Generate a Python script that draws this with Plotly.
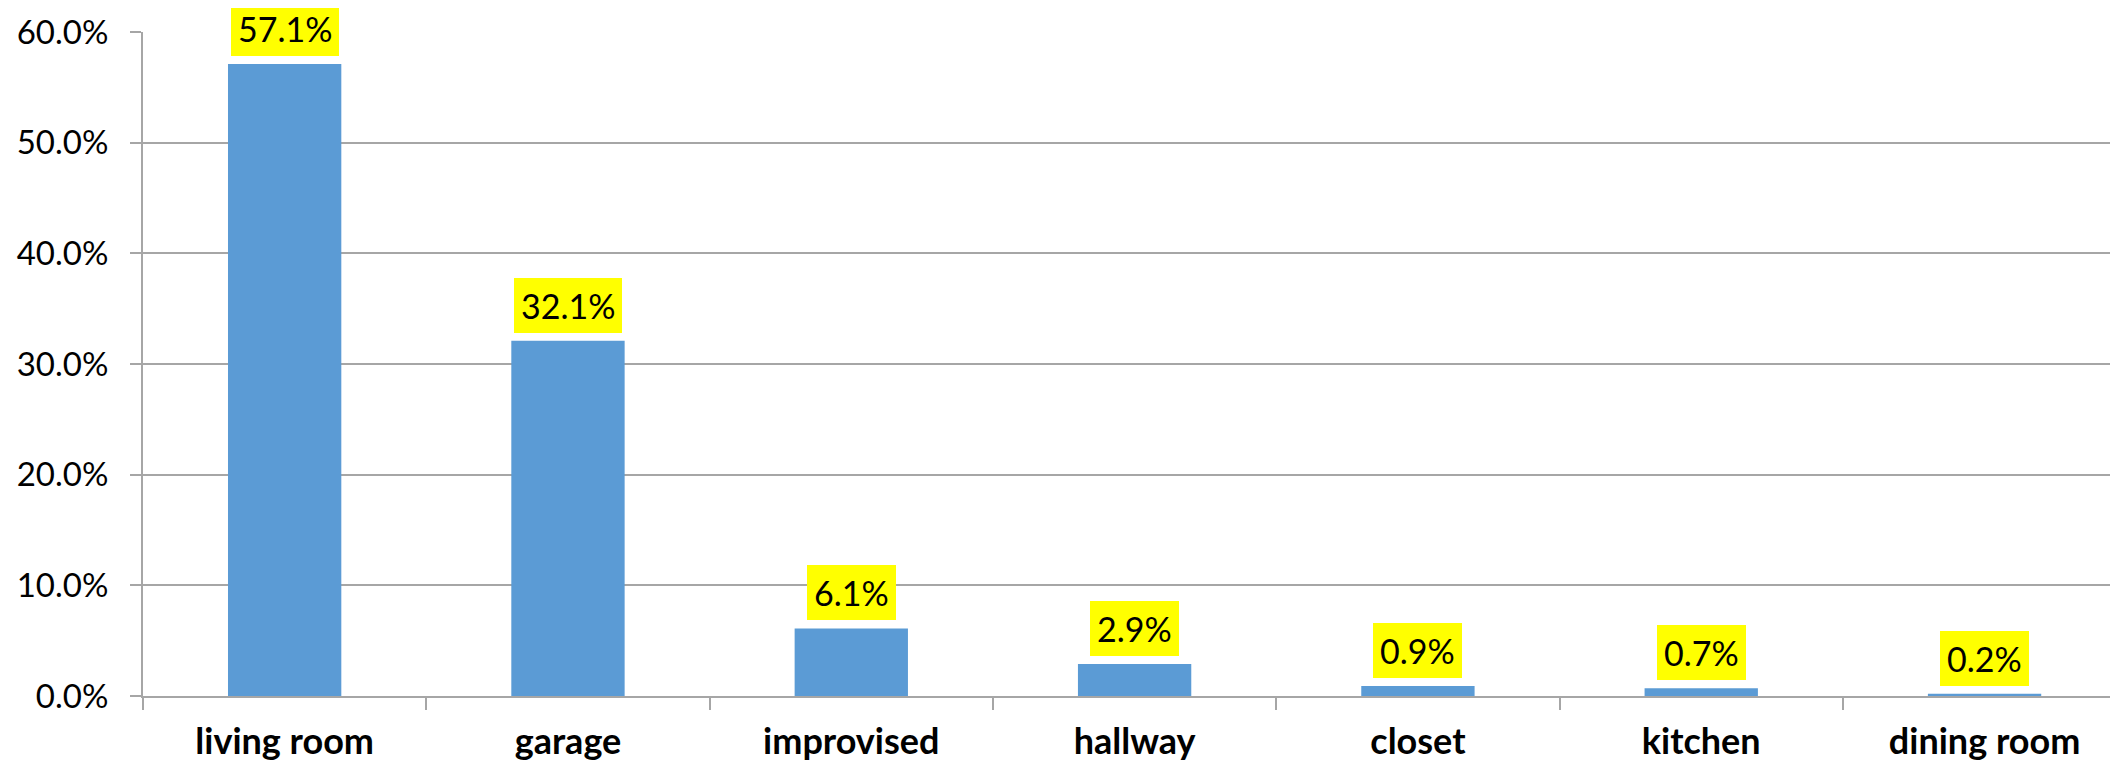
import plotly.graph_objects as go

rooms = ["living room", "garage", "improvised", "hallway", "closet", "kitchen", "dining room"]
share = [57.1, 32.1, 6.1, 2.9, 0.9, 0.7, 0.2]
y_ticks = [0, 10, 20, 30, 40, 50, 60]

fig = go.Figure()
fig.add_trace(go.Bar(x=rooms, y=share, width=0.4, marker=dict(color="#5B9BD5", line=dict(width=0))))

# yellow value boxes above each bar
for r, v in zip(rooms, share):
    fig.add_annotation(x=r, y=v, text=f"{v:.1f}%", showarrow=False, yanchor="bottom", yshift=8,
                       bgcolor="#FFFF00", borderpad=7, borderwidth=0,
                       font=dict(family="Lato", size=34, color="black"))

# page body has an 8px margin, so the figure is sized/offset for that
fig.update_layout(
    width=2110, height=756,
    margin=dict(l=135, r=0, t=24, b=68),
    plot_bgcolor="white", paper_bgcolor="white",
    showlegend=False, bargap=0.6,
    font=dict(family="Lato", color="black"),
)
fig.update_xaxes(range=[-0.5, 6.471], showline=True, linecolor="#A6A6A6", linewidth=2,
                 ticks="outside", ticklen=12, tickcolor="#A6A6A6", tickwidth=2,
                 tickson="boundaries", showgrid=False, automargin=False, ticklabelstandoff=13,
                 tickfont=dict(family="Lato", size=36, color="black", weight="bold"))
fig.update_yaxes(range=[0, 60], tickvals=y_ticks, ticktext=[f"{t:.1f}%" for t in y_ticks],
                 showline=True, linecolor="#A6A6A6", linewidth=2,
                 ticks="outside", ticklen=11, tickcolor="#A6A6A6", tickwidth=2,
                 showgrid=True, gridcolor="#A6A6A6", gridwidth=2, zeroline=False,
                 ticklabelstandoff=15, automargin=False,
                 tickfont=dict(family="Lato", size=33, color="black"))

fig.write_html("out.html")
